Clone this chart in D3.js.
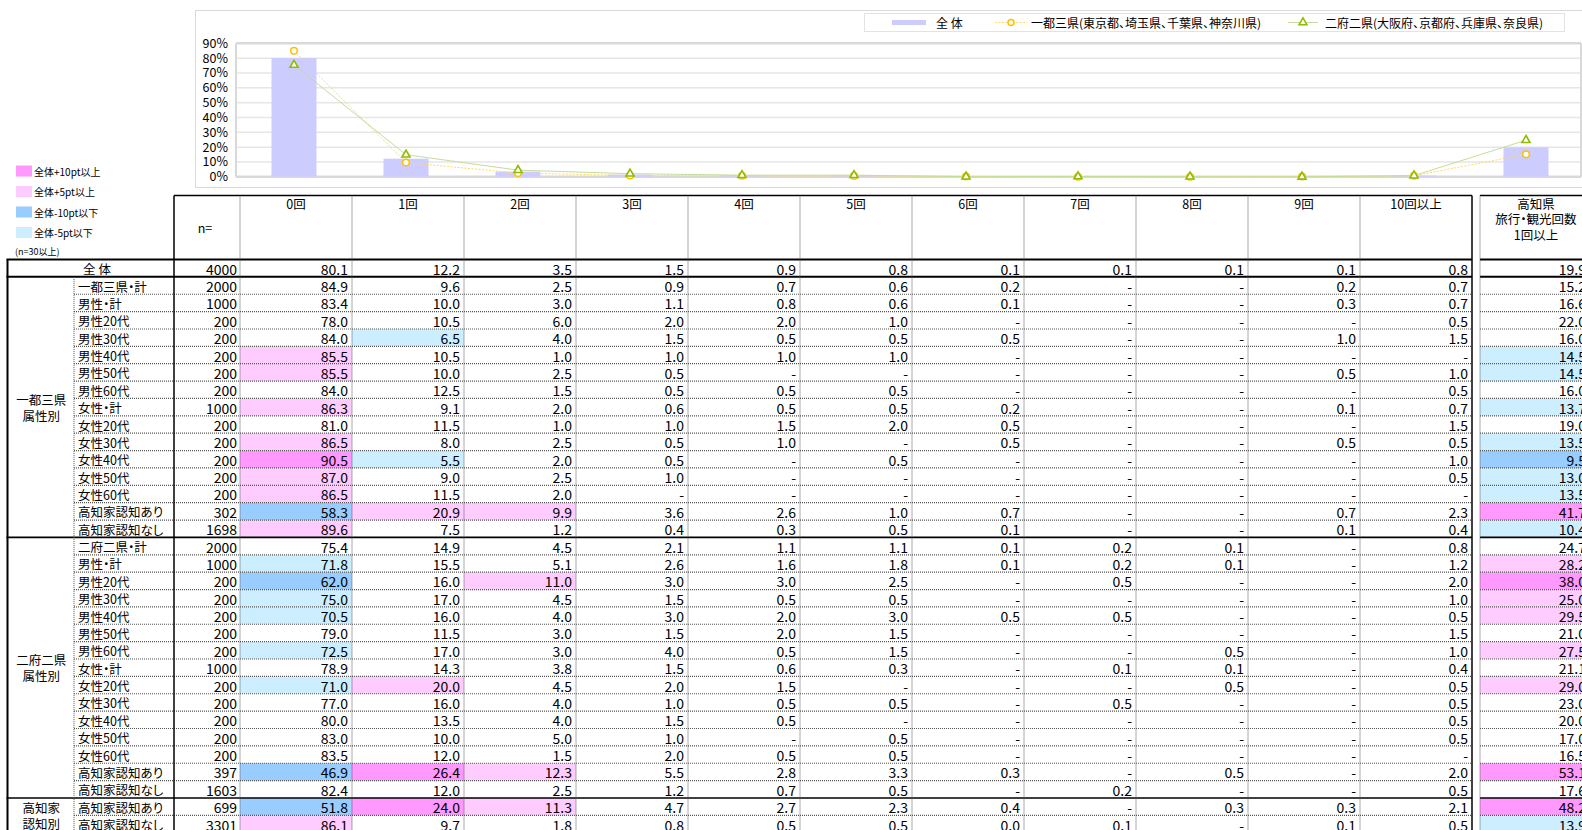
<!DOCTYPE html>
<head>
    <meta charset="utf-8">
    <title>高知県 旅行・観光回数</title>
    <script src="https://d3js.org/d3.v7.min.js"></script>
</head>
<style>
body {
  margin: 0;
  background: #fff;
}

svg {
  font-family: 'Noto Sans CJK JP', 'Noto Sans', sans-serif;
  font-feature-settings: "palt";  /* proportional punctuation, like the original */
}

text {
  fill: #000;
}
</style>
<body>
    <svg></svg>
</body>

<script>
    var vWidth = 1582;
    var vHeight = 830;

    // Chart categories (x axis of the combo chart)
    var vCategories = ['0回', '1回', '2回', '3回', '4回', '5回', '6回', '7回', '8回', '9回', '10回以上', '高知県'];

    // Chart series, in %
    var vSeriesAll  = [80.1, 12.2, 3.5, 1.5, 0.9, 0.8, 0.1, 0.1, 0.1, 0.1, 0.8, 19.9];
    var vSeriesItto = [84.9, 9.6, 2.5, 0.9, 0.7, 0.6, 0.2, 0, 0, 0.2, 0.7, 15.2];
    var vSeriesNifu = [75.4, 14.9, 4.5, 2.1, 1.1, 1.1, 0.1, 0.2, 0.1, 0, 0.8, 24.7];
    var vSeriesNames = ['全 体', '一都三県(東京都、埼玉県、千葉県、神奈川県)', '二府二県(大阪府、京都府、兵庫県、奈良県)'];
    var vYTicks = [0, 10, 20, 30, 40, 50, 60, 70, 80, 90];

    // Table headers
    var vColHeads = ['0回', '1回', '2回', '3回', '4回', '5回', '6回', '7回', '8回', '9回', '10回以上'];
    var vTotalHead = ['高知県', '旅行・観光回数', '1回以上'];

    // Table rows: label, n, values (0回 .. 10回以上), 高知県1回以上. null = '-'
    var vRowLabels = ['全 体',
        '一都三県・計', '男性・計', '男性20代', '男性30代', '男性40代', '男性50代', '男性60代',
        '女性・計', '女性20代', '女性30代', '女性40代', '女性50代', '女性60代', '高知家認知あり', '高知家認知なし',
        '二府二県・計', '男性・計', '男性20代', '男性30代', '男性40代', '男性50代', '男性60代',
        '女性・計', '女性20代', '女性30代', '女性40代', '女性50代', '女性60代', '高知家認知あり', '高知家認知なし',
        '高知家認知あり', '高知家認知なし'];

    var vRowN = [4000,
        2000, 1000, 200, 200, 200, 200, 200, 1000, 200, 200, 200, 200, 200, 302, 1698,
        2000, 1000, 200, 200, 200, 200, 200, 1000, 200, 200, 200, 200, 200, 397, 1603,
        699, 3301];

    var vRowValues = [
        [80.1, 12.2, 3.5, 1.5, 0.9, 0.8, 0.1, 0.1, 0.1, 0.1, 0.8],
        [84.9, 9.6, 2.5, 0.9, 0.7, 0.6, 0.2, null, null, 0.2, 0.7],
        [83.4, 10.0, 3.0, 1.1, 0.8, 0.6, 0.1, null, null, 0.3, 0.7],
        [78.0, 10.5, 6.0, 2.0, 2.0, 1.0, null, null, null, null, 0.5],
        [84.0, 6.5, 4.0, 1.5, 0.5, 0.5, 0.5, null, null, 1.0, 1.5],
        [85.5, 10.5, 1.0, 1.0, 1.0, 1.0, null, null, null, null, null],
        [85.5, 10.0, 2.5, 0.5, null, null, null, null, null, 0.5, 1.0],
        [84.0, 12.5, 1.5, 0.5, 0.5, 0.5, null, null, null, null, 0.5],
        [86.3, 9.1, 2.0, 0.6, 0.5, 0.5, 0.2, null, null, 0.1, 0.7],
        [81.0, 11.5, 1.0, 1.0, 1.5, 2.0, 0.5, null, null, null, 1.5],
        [86.5, 8.0, 2.5, 0.5, 1.0, null, 0.5, null, null, 0.5, 0.5],
        [90.5, 5.5, 2.0, 0.5, null, 0.5, null, null, null, null, 1.0],
        [87.0, 9.0, 2.5, 1.0, null, null, null, null, null, null, 0.5],
        [86.5, 11.5, 2.0, null, null, null, null, null, null, null, null],
        [58.3, 20.9, 9.9, 3.6, 2.6, 1.0, 0.7, null, null, 0.7, 2.3],
        [89.6, 7.5, 1.2, 0.4, 0.3, 0.5, 0.1, null, null, 0.1, 0.4],
        [75.4, 14.9, 4.5, 2.1, 1.1, 1.1, 0.1, 0.2, 0.1, null, 0.8],
        [71.8, 15.5, 5.1, 2.6, 1.6, 1.8, 0.1, 0.2, 0.1, null, 1.2],
        [62.0, 16.0, 11.0, 3.0, 3.0, 2.5, null, 0.5, null, null, 2.0],
        [75.0, 17.0, 4.5, 1.5, 0.5, 0.5, null, null, null, null, 1.0],
        [70.5, 16.0, 4.0, 3.0, 2.0, 3.0, 0.5, 0.5, null, null, 0.5],
        [79.0, 11.5, 3.0, 1.5, 2.0, 1.5, null, null, null, null, 1.5],
        [72.5, 17.0, 3.0, 4.0, 0.5, 1.5, null, null, 0.5, null, 1.0],
        [78.9, 14.3, 3.8, 1.5, 0.6, 0.3, null, 0.1, 0.1, null, 0.4],
        [71.0, 20.0, 4.5, 2.0, 1.5, null, null, null, 0.5, null, 0.5],
        [77.0, 16.0, 4.0, 1.0, 0.5, 0.5, null, 0.5, null, null, 0.5],
        [80.0, 13.5, 4.0, 1.5, 0.5, null, null, null, null, null, 0.5],
        [83.0, 10.0, 5.0, 1.0, null, 0.5, null, null, null, null, 0.5],
        [83.5, 12.0, 1.5, 2.0, 0.5, 0.5, null, null, null, null, null],
        [46.9, 26.4, 12.3, 5.5, 2.8, 3.3, 0.3, null, 0.5, null, 2.0],
        [82.4, 12.0, 2.5, 1.2, 0.7, 0.5, null, 0.2, null, null, 0.5],
        [51.8, 24.0, 11.3, 4.7, 2.7, 2.3, 0.4, null, 0.3, 0.3, 2.1],
        [86.1, 9.7, 1.8, 0.8, 0.5, 0.5, 0.0, 0.1, null, 0.1, 0.5]
    ];

    var vRowTotal = [19.9,
        15.2, 16.6, 22.0, 16.0, 14.5, 14.5, 16.0, 13.7, 19.0, 13.5, 9.5, 13.0, 13.5, 41.7, 10.4,
        24.7, 28.2, 38.0, 25.0, 29.5, 21.0, 27.5, 21.1, 29.0, 23.0, 20.0, 17.0, 16.5, 53.1, 17.6,
        48.2, 13.9];

    // Row groups (first / last row index)
    var vGroups = [
        { label: ['一都三県', '属性別'], first: 1, last: 15 },
        { label: ['二府二県', '属性別'], first: 16, last: 30 },
        { label: ['高知家', '認知別'], first: 31, last: 32 }
    ];

    // Highlight legend
    var vHiLabels = ['全体+10pt以上', '全体+5pt以上', '全体-10pt以下', '全体-5pt以下'];
    var vHiColors = ['#ff99ff', '#ffccff', '#99ccff', '#cceeff'];

    var svg = d3.select('svg')
        .attr('width', vWidth)
        .attr('height', vHeight);

    drawChart();
    drawHiLegend();
    drawTable();

    /**
     * Combo chart: bars for 全体, two lines with markers
     */
    function drawChart() {
        var g = svg.append('g');

        // outer chart frame
        g.append('rect')
            .attr('x', 195.5).attr('y', 10.5)
            .attr('width', 1420).attr('height', 177)
            .attr('fill', '#fff').attr('stroke', '#d9d9d9');

        var x = d3.scaleBand().domain(vCategories).range([238, 1582]);
        var y = d3.scaleLinear().domain([0, 90]).range([176.8, 43.3]);
        var cx = function (d, i) { return x(vCategories[i]) + x.bandwidth() / 2; };

        // gridlines
        g.append('g').selectAll('line').data(vYTicks).enter().append('line')
            .attr('x1', 236).attr('x2', 1581)
            .attr('y1', function (d) { return y(d); })
            .attr('y2', function (d) { return y(d); })
            .attr('stroke', function (d) { return (d === 0 || d === 90) ? '#d9d9d9' : '#e6e6e6'; })
            .attr('stroke-width', function (d) { return (d === 0 || d === 90) ? 2.5 : 1.5; });

        // plot area side borders
        g.append('line').attr('x1', 236).attr('x2', 236).attr('y1', y(90)).attr('y2', y(0))
            .attr('stroke', '#d9d9d9').attr('stroke-width', 2);
        g.append('line').attr('x1', 1581).attr('x2', 1581).attr('y1', y(90)).attr('y2', y(0))
            .attr('stroke', '#d9d9d9').attr('stroke-width', 2);

        // y axis labels
        var yAxis = g.append('g')
            .attr('transform', 'translate(236,0)')
            .call(d3.axisLeft(y).tickValues(vYTicks).tickSize(0).tickPadding(8)
                .tickFormat(function (d) { return d + '%'; }));
        yAxis.select('.domain').remove();
        yAxis.selectAll('text')
            .attr('font-family', "'Noto Sans CJK JP', sans-serif")
            .attr('font-size', 12.5)
            .attr('fill', '#333');

        // bars
        g.append('g').selectAll('rect').data(vSeriesAll).enter().append('rect')
            .attr('x', function (d, i) { return cx(d, i) - 22.5; })
            .attr('width', 45)
            .attr('y', function (d) { return y(d); })
            .attr('height', function (d) { return y(0) - y(d); })
            .attr('fill', '#ccccff');

        var vLine = d3.line()
            .x(function (d, i) { return cx(d, i); })
            .y(function (d) { return y(d); });

        g.append('path').datum(vSeriesItto)
            .attr('d', vLine).attr('fill', 'none')
            .attr('stroke', '#ffd966').attr('stroke-width', 1)
            .attr('stroke-dasharray', '2,1.5');
        g.append('path').datum(vSeriesNifu)
            .attr('d', vLine).attr('fill', 'none')
            .attr('stroke', '#c5dc9a').attr('stroke-width', 1);

        // markers
        g.append('g').selectAll('circle').data(vSeriesItto).enter().append('circle')
            .attr('cx', function (d, i) { return cx(d, i); })
            .attr('cy', function (d) { return y(d); })
            .attr('r', 3.3)
            .attr('fill', '#fff').attr('stroke', '#ffc000').attr('stroke-width', 1.5);

        var vTri = d3.symbol().type(d3.symbolTriangle).size(28);
        g.append('g').selectAll('path').data(vSeriesNifu).enter().append('path')
            .attr('d', vTri)
            .attr('transform', function (d, i) { return 'translate(' + cx(d, i) + ',' + y(d) + ')'; })
            .attr('fill', '#fff').attr('stroke', '#8fbc00').attr('stroke-width', 1.6);

        // legend
        var lg = g.append('g');
        lg.append('rect')
            .attr('x', 864.5).attr('y', 13.5).attr('width', 700).attr('height', 18)
            .attr('fill', '#fff').attr('stroke', '#e3e3e3');
        lg.append('rect').attr('x', 892).attr('y', 20).attr('width', 34).attr('height', 5).attr('fill', '#ccccff');
        lg.append('line').attr('x1', 995).attr('x2', 1027).attr('y1', 22.5).attr('y2', 22.5)
            .attr('stroke', '#ffd966').attr('stroke-dasharray', '2,1.5');
        lg.append('circle').attr('cx', 1011).attr('cy', 22.5).attr('r', 3)
            .attr('fill', '#fff').attr('stroke', '#ffc000').attr('stroke-width', 1.5);
        lg.append('line').attr('x1', 1288).attr('x2', 1318).attr('y1', 22.5).attr('y2', 22.5)
            .attr('stroke', '#c5dc9a');
        lg.append('path').attr('d', vTri).attr('transform', 'translate(1303,22.5)')
            .attr('fill', '#fff').attr('stroke', '#8fbc00').attr('stroke-width', 1.5);
        lg.selectAll('text').data(vSeriesNames).enter().append('text')
            .attr('x', function (d, i) { return [936, 1031, 1325][i]; })
            .attr('y', 22.5)
            .attr('dominant-baseline', 'central')
            .attr('font-size', 12)
            .attr('fill', '#333')
            .text(function (d) { return d; });
    }

    /**
     * Left colour legend for the highlighting rule
     */
    function drawHiLegend() {
        var g = svg.append('g');
        var vY = d3.scaleBand().domain(d3.range(vHiLabels.length)).range([165, 247]);
        g.selectAll('rect').data(vHiLabels).enter().append('rect')
            .attr('x', 16).attr('width', 16)
            .attr('y', function (d, i) { return vY(i) + 0.5; })
            .attr('height', 11)
            .attr('fill', function (d, i) { return vHiColors[i]; });
        g.selectAll('text.hl').data(vHiLabels).enter().append('text')
            .attr('class', 'hl')
            .attr('x', 34)
            .attr('y', function (d, i) { return vY(i) + 6; })
            .attr('dominant-baseline', 'central')
            .attr('font-size', 10)
            .text(function (d) { return d; });
        g.append('text').attr('x', 15).attr('y', 251)
            .attr('dominant-baseline', 'central')
            .attr('font-size', 9)
            .attr('fill', '#333')
            .text('(n=30以上)');
    }

    /**
     * Pick the highlight colour for a value against the 全体 row
     */
    function hiColor(v, base) {
        var diff = Math.round(((v || 0) - (base || 0)) * 10) / 10;
        if (diff >= 10) return vHiColors[0];
        if (diff >= 5) return vHiColors[1];
        if (diff <= -10) return vHiColors[2];
        if (diff <= -5) return vHiColors[3];
        return null;
    }

    /**
     * Cross table below the chart
     */
    function drawTable() {
        var g = svg.append('g');
        var vFmt = d3.format('.1f');
        var vTop = 195.5, vHeadBottom = 259.5;
        var vLeft = 7.5, vGroupRight = 74, vLabelRight = 174, vNRight = 240, vRight = 1472;
        var vTotLeft = 1480, vTotRight = 1592;

        var col = d3.scaleBand().domain(vColHeads).range([vNRight, vRight]);
        var row = d3.scaleBand().domain(d3.range(vRowLabels.length)).range([vHeadBottom, vHeadBottom + 17.37 * vRowLabels.length]);
        var rh = row.bandwidth();

        // cell highlights
        vRowValues.forEach(function (vals, r) {
            if (r === 0 || vRowN[r] < 30) return;
            vals.forEach(function (v, c) {
                var fill = hiColor(v, vRowValues[0][c]);
                if (fill) g.append('rect')
                    .attr('x', col(vColHeads[c])).attr('y', row(r))
                    .attr('width', col.bandwidth()).attr('height', rh)
                    .attr('fill', fill);
            });
            var tf = hiColor(vRowTotal[r], vRowTotal[0]);
            if (tf) g.append('rect')
                .attr('x', vTotLeft).attr('y', row(r))
                .attr('width', vTotRight - vTotLeft).attr('height', rh)
                .attr('fill', tf);
        });

        // helper for lines
        function hline(y, x1, x2, w, dashed) {
            g.append('line').attr('x1', x1).attr('x2', x2).attr('y1', y).attr('y2', y)
                .attr('stroke', dashed ? '#555' : '#000')
                .attr('stroke-width', w)
                .attr('stroke-dasharray', dashed ? '1,1' : null);
        }
        function vline(x, y1, y2, w, dashed) {
            g.append('line').attr('x1', x).attr('x2', x).attr('y1', y1).attr('y2', y2)
                .attr('stroke', dashed ? '#555' : '#000')
                .attr('stroke-width', w)
                .attr('stroke-dasharray', dashed ? '1,1' : null);
        }

        var vBottom = vHeight + 5;
        var vGroupStarts = vGroups.map(function (d) { return d.first; });

        // horizontal rules
        hline(vTop, vLabelRight, vRight, 1.5, false);
        hline(vTop, vTotLeft, vTotRight, 1.5, false);
        hline(vHeadBottom, vLeft - 1, vRight, 2.2, false);
        hline(vHeadBottom, vTotLeft, vTotRight, 2.2, false);
        d3.range(1, vRowLabels.length).forEach(function (r) {
            var y = row(r);
            if (vGroupStarts.indexOf(r) >= 0) {
                hline(y, vLeft - 1, vRight, r === 1 ? 2 : 1.6, false);
                hline(y, vTotLeft, vTotRight, r === 1 ? 2 : 1.6, false);
            } else {
                hline(y, vGroupRight, vRight, 1.2, true);
                hline(y, vTotLeft, vTotRight, 1.2, true);
            }
        });

        // vertical rules
        vline(vLeft, vHeadBottom, vBottom, 2, false);
        vline(vGroupRight, row(1), vBottom, 1, true);
        vline(vLabelRight, vTop, vBottom, 1.5, false);
        col.domain().forEach(function (c) { vline(col(c), vTop, vBottom, 1, true); });
        vline(vRight, vTop, vBottom, 1.5, false);
        vline(vTotLeft, vTop, vBottom, 1, true);

        // header
        g.selectAll('text.head').data(vColHeads).enter().append('text')
            .attr('class', 'head')
            .attr('x', function (d) { return col(d) + col.bandwidth() / 2; })
            .attr('y', 203)
            .attr('text-anchor', 'middle').attr('dominant-baseline', 'central')
            .attr('font-size', 12.5)
            .text(function (d) { return d; });
        g.append('text').attr('x', 205).attr('y', 227)
            .attr('text-anchor', 'middle').attr('dominant-baseline', 'central')
            .attr('font-size', 12.5).text('n=');
        g.selectAll('text.thead').data(vTotalHead).enter().append('text')
            .attr('class', 'thead')
            .attr('x', (vTotLeft + vTotRight) / 2)
            .attr('y', function (d, i) { return 203 + i * 15.5; })
            .attr('text-anchor', 'middle').attr('dominant-baseline', 'central')
            .attr('font-size', 12.5)
            .text(function (d) { return d; });

        // group labels
        vGroups.forEach(function (grp) {
            var cy = (row(grp.first) + row(grp.last) + rh) / 2;
            g.append('text')
                .attr('x', (vLeft + vGroupRight) / 2 + 0.5)
                .attr('y', cy)
                .attr('text-anchor', 'middle')
                .attr('font-size', 12.5)
                .selectAll('tspan').data(grp.label).enter().append('tspan')
                .attr('x', (vLeft + vGroupRight) / 2 + 0.5)
                .attr('dy', function (d, i) { return i === 0 ? '-0.2em' : '1.3em'; })
                .text(function (d) { return d; });
        });

        // row labels
        g.selectAll('text.rl').data(vRowLabels).enter().append('text')
            .attr('class', 'rl')
            .attr('x', function (d, i) { return i === 0 ? 97 : 78; })
            .attr('y', function (d, i) { return row(i) + rh / 2 + 0.5; })
            .attr('text-anchor', function (d, i) { return i === 0 ? 'middle' : 'start'; })
            .attr('dominant-baseline', 'central')
            .attr('font-size', 12.5)
            .text(function (d) { return d; });

        // n
        g.selectAll('text.n').data(vRowN).enter().append('text')
            .attr('class', 'n')
            .attr('x', vNRight - 3)
            .attr('y', function (d, i) { return row(i) + rh / 2 + 0.5; })
            .attr('text-anchor', 'end').attr('dominant-baseline', 'central')
            .attr('font-size', 14)
            .text(function (d) { return d; });

        // values
        vRowValues.forEach(function (vals, r) {
            g.append('g').selectAll('text').data(vals).enter().append('text')
                .attr('x', function (d, c) { return col(vColHeads[c]) + col.bandwidth() - 4; })
                .attr('y', row(r) + rh / 2 + 0.5)
                .attr('text-anchor', 'end').attr('dominant-baseline', 'central')
                .attr('font-size', 14)
                .text(function (d) { return d === null ? '-' : vFmt(d); });
        });

        g.selectAll('text.tot').data(vRowTotal).enter().append('text')
            .attr('class', 'tot')
            .attr('x', vTotRight - 6)
            .attr('y', function (d, i) { return row(i) + rh / 2 + 0.5; })
            .attr('text-anchor', 'end').attr('dominant-baseline', 'central')
            .attr('font-size', 14)
            .text(function (d) { return vFmt(d); });
    }
</script>
